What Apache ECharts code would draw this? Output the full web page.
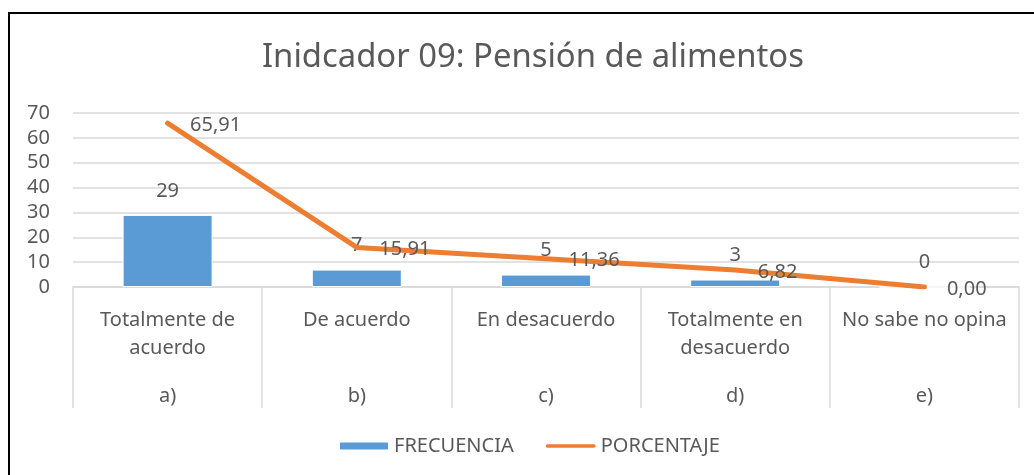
<!DOCTYPE html>
<html>
<head>
<meta charset="utf-8">
<script src="https://cdn.jsdelivr.net/npm/echarts@6/dist/echarts.min.js"></script>
<style>
  html, body { margin: 0; padding: 0; background: #fff; }
  #chart { width: 1034px; height: 475px; position: relative; }
  #frame { position: absolute; left: 8px; top: 12px; right: -10px; bottom: -10px;
           border-top: 2px solid #000; border-left: 2px solid #000; pointer-events: none; }
</style>
</head>
<body>
<div style="position:relative;width:1034px;height:475px;overflow:hidden;">
  <div id="chart"></div>
  <div id="frame"></div>
</div>
<script>
const title = 'Inidcador 09: Pensión de alimentos';
const categories = ['Totalmente de\nacuerdo', 'De acuerdo', 'En desacuerdo', 'Totalmente en\ndesacuerdo', 'No sabe no opina'];
const letters = ['a)', 'b)', 'c)', 'd)', 'e)'];
const frecuencia = [29, 7, 5, 3, 0];
const porcentaje = [65.91, 15.91, 11.36, 6.82, 0.00];
const yTicks = { min: 0, max: 70, interval: 10 };

const FONT = 'Noto Sans';
const TXT = '#595959';
const GRID = '#d9d9d9';
const FS = 20;

const chart = echarts.init(document.getElementById('chart'), null, { renderer: 'canvas' });
chart.setOption({
  animation: false,
  textStyle: { fontFamily: FONT },
  title: {
    text: title, left: 257, top: 36,
    textStyle: { fontFamily: FONT, fontSize: 32.8, fontWeight: 'normal', color: TXT }
  },
  legend: {
    left: 338, top: 436, padding: 0, itemGap: 32, itemWidth: 50, itemHeight: 9,
    textStyle: { fontFamily: FONT, fontSize: FS, color: TXT },
    data: [
      { name: 'FRECUENCIA', icon: 'rect' },
      { name: 'PORCENTAJE', icon: 'path://M2,0 L53,0 A2,2 0 0 1 53,4 L2,4 A2,2 0 0 1 2,0 Z' }
    ]
  },
  grid: { left: 73, right: 15, top: 113, bottom: 188, containLabel: false },
  xAxis: [
    {
      type: 'category', data: categories, position: 'bottom',
      axisLine: { lineStyle: { color: GRID, width: 1.5 } },
      axisTick: { show: true, length: 121, interval: 0, lineStyle: { color: GRID, width: 1.5 } },
      axisLabel: { interval: 0, margin: 19, fontFamily: FONT, fontSize: FS, lineHeight: 28, color: TXT }
    },
    {
      type: 'category', data: letters, position: 'bottom',
      axisLine: { show: false }, axisTick: { show: false },
      axisLabel: { interval: 0, margin: 95, fontFamily: FONT, fontSize: FS, lineHeight: 28, color: TXT }
    }
  ],
  yAxis: {
    type: 'value', min: yTicks.min, max: yTicks.max, interval: yTicks.interval,
    axisLine: { show: false }, axisTick: { show: false },
    axisLabel: { margin: 23, fontFamily: FONT, fontSize: FS, color: TXT },
    splitLine: { lineStyle: { color: GRID, width: 1.5 } }
  },
  series: [
    {
      name: 'FRECUENCIA', type: 'bar', data: frecuencia, barWidth: 90, xAxisIndex: 0,
      itemStyle: { color: '#5B9BD5', borderColor: '#fff', borderWidth: 1 },
      label: { show: true, position: 'top', distance: 14, fontFamily: FONT, fontSize: FS, color: TXT }
    },
    {
      name: 'PORCENTAJE', type: 'line', data: porcentaje, xAxisIndex: 0,
      symbol: 'circle', symbolSize: 1, showSymbol: true,
      lineStyle: { color: '#ED7D31', width: 5, cap: 'round', join: 'round' },
      itemStyle: { color: '#ED7D31' },
      label: {
        show: true, position: 'right', distance: 22, offset: [0, 2], fontFamily: FONT, fontSize: FS, color: TXT,
        formatter: p => p.value.toFixed(2).replace('.', ',')
      },
      z: 3
    }
  ]
});
</script>
</body>
</html>
